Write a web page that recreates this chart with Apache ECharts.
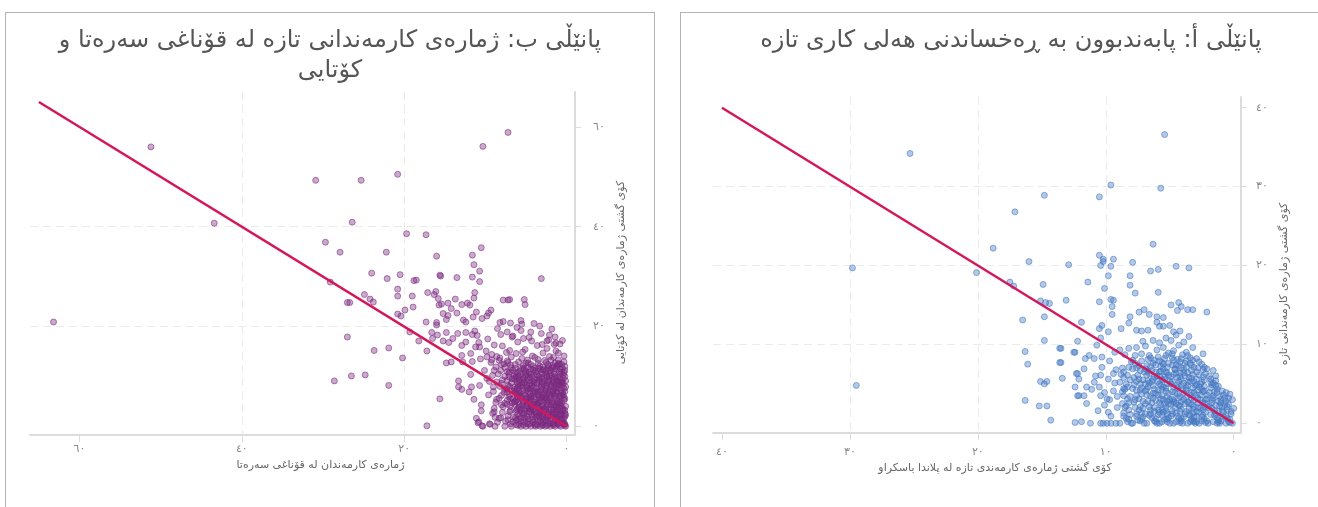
<!DOCTYPE html>
<html>
<head>
<meta charset="utf-8">
<script src="https://cdn.jsdelivr.net/npm/echarts@6/dist/echarts.min.js"></script>
<style>
body{margin:0;background:#fff;overflow:hidden;width:1318px;height:507px;position:relative}
.panel{position:absolute;top:12px;height:520px;border:1px solid #b3b3b3;background:#fff}
#panelB{left:5px;width:648px}
#panelA{left:680px;width:660px}
</style>
</head>
<body>
<div class="panel" id="panelB"></div>
<div class="panel" id="panelA"></div>
<script>
// 刻度
var xTicksA = [0, 10, 20, 30, 40];
var yTicksA = [0, 10, 20, 30, 40];
var xTicksB = [0, 20, 40, 60];
var yTicksB = [0, 20, 40, 60];

// 45度参考线
var fitA = [[0, 0], [40, 40]];
var fitB = [[0, 0], [65, 65]];

// پانێڵی أ - 离群点
var outliersA = [[25.3,34.2],[29.8,19.7],[29.5,4.8],[14.8,28.9],[17.1,26.8],[18.8,22.2],[16.0,20.5],[12.9,20.1],[20.1,19.1],[17.5,17.9],[17.2,17.4],[14.9,17.6],[15.1,15.5],[14.7,15.3],[14.4,15.2],[13.1,15.6],[16.5,13.1],[14.8,13.5],[14.8,10.5],[12.2,10.4],[16.3,9.1],[13.5,9.5],[12.4,9.0],[16.1,7.5],[13.5,7.7],[15.1,5.3],[14.6,5.3],[14.8,5.0],[13.4,5.7],[12.2,6.3],[12.1,5.6],[12.4,4.6],[12.1,3.5],[16.3,2.9],[15.2,2.2],[14.6,2.2],[14.3,0.4],[12.4,0.1],
  [5.4,36.6],[9.6,30.2],[5.7,29.8],[10.5,28.7],[6.3,22.7],[10.5,21.3],[10.2,20.8],[10.2,20.5],[10.4,20.0],[9.4,20.8],[9.6,19.9],[7.9,20.4],[6.5,19.3],[5.9,19.5],[4.5,19.9],[3.5,19.7],[9.8,18.7],[8.1,18.7],[11.4,17.9],[8.1,17.5],[10.1,17.1],[7.7,16.5],[5.9,16.6],[10.5,15.4],[9.6,15.7],[9.4,15.6],[9.5,14.8],[9.5,13.8],[4.9,15.0],[4.3,15.3],[4.1,14.8],[4.4,14.3],[3.6,14.4],[3.2,14.4],[2.1,14.1],[7.4,14.1],[7.0,14.4],[6.6,13.8],[8.1,13.5],[8.2,12.7],[11.9,12.8],[10.3,12.4],[10.5,12.0],[9.8,11.6],[8.8,12.0],[4.7,11.6],[4.2,11.7],[6.0,13.5],[5.5,13.4],[6.0,12.8],[5.8,12.3],[5.5,12.3],[5.0,12.4],[7.6,11.8],[7.2,11.7],[6.7,11.8],
  [13.6,9.5],[13.6,7.7],[12.5,9.0],[12.3,6.3],[11.6,8.2],[11.5,4.6],[10.9,5.2],[10.9,8.2],[10.4,10.8],[10.3,8.4],[10.4,6.1],[10.5,4.6],[10.4,3.5],[10.1,2.3],[9.8,1.4],[9.7,3.0],[9.4,6.3],[9.3,5.1],[9.1,3.4],[8.9,9.3],[8.6,4.4],[12.2,3.5],[11.7,3.5],[9.6,0],[9.9,0],[10.4,0],[11.9,0.2]];

// پانێڵی أ - 密集区
var clusterA = [[0.1,0],[0.3,0.5],[0.6,0],[0.2,1.2],[0.5,1.7],[0.8,0.8],[0.4,2.4],[0.9,2.1],[0.1,3.0],[0.7,3.2],[0.3,3.7],[1.0,0.3],[0.9,4.1],[0.0,1.9],[0.6,2.8],
  [1.1,0],[1.3,0.7],[1.6,0.2],[1.2,1.5],[1.8,1.1],[1.4,2.3],[1.7,3.0],[1.1,3.4],[1.9,2.2],[1.5,4.0],[1.2,4.7],[1.8,4.5],[1.4,5.4],[1.9,6.0],[1.6,6.7],[1.3,0.0],
  [2.0,0],[2.3,0.6],[2.7,0],[2.2,1.4],[2.6,1.9],[2.9,0.9],[2.4,2.6],[2.8,3.2],[2.1,3.6],[2.5,4.3],[2.9,4.9],[2.3,5.5],[2.7,6.1],[2.1,6.9],[2.5,7.5],[2.9,8.2],[2.4,8.8],
  [3.0,0],[3.3,0.5],[3.6,0],[3.9,0.8],[3.2,1.3],[3.5,1.9],[3.8,2.5],[3.1,2.9],[3.4,3.6],[3.7,4.2],[3.0,4.8],[3.9,5.1],[3.3,5.7],[3.6,6.4],[3.1,7.1],[3.8,7.6],[3.4,8.3],[3.7,9.0],[3.2,9.6],[3.9,10.3],[3.5,11.0],
  [4.0,0],[4.3,0.6],[4.7,0],[4.9,0.9],[4.2,1.5],[4.6,2.0],[4.1,2.7],[4.8,3.1],[4.4,3.7],[4.0,4.3],[4.7,4.6],[4.3,5.3],[4.9,5.9],[4.5,6.4],[4.1,7.0],[4.8,7.4],[4.4,8.1],[4.0,8.7],[4.7,9.2],[4.3,9.9],[4.9,10.5],[4.5,11.2],
  [5.0,0],[5.4,0.5],[5.8,0],[5.2,1.2],[5.6,1.8],[5.9,1.1],[5.1,2.4],[5.5,3.0],[5.9,3.6],[5.3,4.1],[5.7,4.8],[5.0,5.3],[5.4,5.9],[5.8,6.5],[5.2,7.1],[5.6,7.7],[5.9,8.4],[5.1,8.9],[5.5,9.6],[5.8,10.2],[5.3,10.8],
  [6.0,0],[6.4,0.7],[6.8,0],[6.2,1.5],[6.6,2.1],[6.9,1.2],[6.1,2.9],[6.5,3.5],[6.9,4.1],[6.3,4.8],[6.7,5.4],[6.0,6.0],[6.4,6.7],[6.8,7.3],[6.2,8.0],[6.6,8.6],[6.0,9.3],[6.9,9.8],[6.3,10.5],
  [7.0,0],[7.5,0.4],[7.9,0],[7.2,1.3],[7.7,2.0],[7.1,2.8],[7.6,3.5],[7.9,4.4],[7.3,5.0],[7.8,5.8],[7.0,6.5],[7.4,7.3],[7.9,8.0],[7.2,8.8],[7.6,9.6],[7.1,10.4],
  [8.0,0],[8.4,0.6],[8.9,0],[8.2,1.7],[8.7,2.5],[8.1,3.4],[8.5,4.3],[8.9,5.2],[8.3,6.1],[8.7,7.0],[8.0,7.8],[8.5,8.7],[8.2,9.5],
  [9.2,0],[9.6,0.9],[9.1,2.0],[9.9,3.1],[9.4,4.1],[9.8,5.6],[9.2,6.8],[9.7,7.9],[9.3,9.0],[10.2,0],[10.6,1.6],[10.1,3.9],[10.8,6.0],[10.3,7.1],[10.7,9.9],[11.2,0],[11.5,2.5],[11.1,4.3],[11.7,6.9],[11.3,8.6],
  [0.4,0.2],[0.8,1.4],[1.0,2.6],[1.5,1.0],[1.7,2.6],[1.3,3.9],[1.6,5.1],[2.0,2.0],[2.2,3.0],[2.4,4.0],[2.6,5.0],[2.2,6.3],[2.8,7.0],[2.5,0.3],[2.9,1.5],[3.2,0.3],[3.5,1.1],[3.3,2.4],[3.7,3.3],[3.1,3.9],[3.6,5.2],[3.2,6.2],[3.9,6.8],[3.4,7.6],[4.1,0.3],[4.5,1.3],[4.2,2.2],[4.7,2.9],[4.4,4.5],[4.1,5.6],[4.6,6.9],[4.2,7.8],[4.8,8.3],[5.2,0.2],[5.6,1.0],[5.3,2.0],[5.8,2.6],[5.2,3.3],[5.6,4.3],[5.9,5.3],[5.3,6.5],[5.7,7.2],[5.4,8.2],[6.2,0.3],[6.6,1.0],[6.4,2.6],[6.1,3.8],[6.7,4.6],[6.3,5.6],[6.7,6.6],[6.1,7.4],[6.5,8.3],[7.3,0.3],[7.1,1.9],[7.4,3.1],[7.2,4.5],[7.6,5.3],[7.3,6.7],[7.7,7.6],[8.3,0.2],[8.6,1.3],[8.2,2.6],[8.4,5.0],[8.6,6.5],
  [0.5,0.6],[0.2,1.5],[0.7,2.4],[0.4,3.2],[0.8,3.6],
  [1.2,0.4],[1.5,1.6],[1.1,2.2],[1.6,3.5],[1.3,4.3],[1.7,4.9],[1.4,6.0],[1.8,5.6],
  [2.1,0.3],[2.4,1.0],[2.7,1.4],[2.3,2.1],[2.8,2.6],[2.1,3.1],[2.6,3.6],[2.3,4.7],[2.8,4.2],[2.4,5.9],[2.9,5.6],[2.3,7.1],[2.7,7.8],
  [3.1,0.8],[3.4,0.2],[3.7,1.5],[3.1,2.1],[3.6,2.7],[3.3,3.2],[3.9,3.8],[3.2,4.5],[3.6,4.8],[3.4,5.3],[3.8,6.0],[3.3,6.7],[3.7,7.1],[3.2,8.0],[3.6,8.6],
  [4.2,0.1],[4.4,0.9],[4.8,1.6],[4.1,1.8],[4.5,2.5],[4.9,2.4],[4.2,3.4],[4.6,3.9],[4.1,4.8],[4.8,5.3],[4.4,5.8],[4.2,6.4],[4.7,6.2],[4.5,7.4],[4.1,8.2],[4.8,8.8],
  [5.1,0.7],[5.5,1.4],[5.9,1.7],[5.4,2.5],[5.0,3.0],[5.7,3.1],[5.1,3.8],[5.5,4.6],[5.9,4.2],[5.2,5.0],[5.6,5.5],[5.1,6.1],[5.8,6.0],[5.5,6.9],[5.1,7.6],[5.8,7.9],[5.3,8.6],
  [6.1,0.6],[6.5,1.7],[6.9,2.5],[6.3,3.2],[6.8,3.6],[6.2,4.3],[6.6,5.1],[6.9,5.0],[6.2,5.9],[6.6,6.3],[6.9,6.9],[6.3,7.6],[6.7,8.1],
  [7.1,0.8],[7.6,1.2],[7.3,2.1],[7.8,2.7],[7.2,3.7],[7.6,4.2],[7.1,5.5],[7.5,6.1],[7.9,6.9],[7.2,7.9],[7.7,8.6],
  [8.1,1.1],[8.5,2.0],[8.3,3.1],[8.7,4.0],[8.1,5.5],[8.6,5.8],[8.2,7.1],
  [0.3,0.1],[0.6,0.9],[0.9,1.6],[0.5,2.1],[1.0,3.0],[0.6,3.9],
  [1.2,0.2],[1.4,1.1],[1.7,1.9],[1.2,2.8],[1.6,3.2],[1.9,3.9],[1.4,4.8],[1.8,5.2],
  [2.2,0.1],[2.5,0.8],[2.9,0.2],[2.4,1.7],[2.8,2.0],[2.2,2.5],[2.6,3.0],[2.9,3.6],[2.3,4.1],[2.7,4.6],[2.5,5.2],[2.9,6.5],[2.4,6.8],
  [3.1,0.2],[3.4,1.0],[3.8,1.2],[3.2,1.8],[3.5,2.5],[3.9,3.0],[3.3,3.9],[3.7,4.4],[3.1,5.3],[3.5,5.8],[3.9,6.4],[3.3,7.4],[3.7,7.9],
  [4.1,0.6],[4.5,0.2],[4.8,1.2],[4.3,2.3],[4.7,2.7],[4.3,3.2],[4.8,4.0],[4.4,4.9],[4.9,5.0],[4.2,5.9],[4.6,6.8],[4.3,7.3],[4.7,8.0],
  [5.2,0.5],[5.6,0.2],[5.8,1.4],[5.3,1.6],[5.7,2.3],[5.2,2.8],[5.6,3.5],[5.3,4.5],[5.8,5.0],[5.4,5.6],[5.2,6.4],[5.7,6.6],[5.5,7.5],
  [6.1,0.2],[6.5,1.2],[6.2,2.0],[6.7,2.8],[6.3,3.8],[6.8,4.3],[6.4,5.3],[6.1,6.5],[6.8,6.1],[6.5,7.2],
  [7.2,0.5],[7.6,0.9],[7.4,1.7],[7.7,3.0],[7.3,4.2],[7.8,4.9],[7.4,5.6],[7.6,7.0],
  [8.2,0.5],[8.6,0.9],[8.4,2.2],[8.6,3.5],[8.3,4.6],[8.8,6.2]];

// پانێڵی ب - 离群点
var outliersB = [[51.2,56.0],[43.4,40.7],[63.2,20.9],
  [7.2,58.9],[10.3,56.1],[30.9,49.3],[25.3,49.3],[20.8,50.5],[26.4,40.9],[19.7,38.6],[17.3,38.4],[29.7,36.9],[27.9,34.9],[22.2,34.9],[10.5,35.8],[16.0,34.1],[11.6,34.3],[11.4,32.4],[10.7,31.1],[24.0,30.7],[20.5,30.4],[22.1,29.6],[15.6,30.3],[15.5,30.1],[13.5,29.8],[11.6,29.9],[10.7,29.0],[3.1,29.6],[29.1,28.9],[18.8,29.2],[18.5,29.3],[20.8,27.5],[24.9,26.4],[24.2,25.5],[23.8,24.9],[27.0,24.8],[26.7,24.8],[20.8,26.1],[19.0,26.1],[18.9,23.9],[19.9,23.3],[20.8,22.5],[20.4,22.1],[19.3,18.9],[27.0,17.9],[23.7,15.2],[21.9,15.7],[20.2,13.7],[28.6,9.1],[26.5,10.1],[24.8,10.3],[21.9,8.2],[15.6,5.5],[17.2,0.1],
  [5.6,21.2],[5.5,20.5],[4.0,20.6],[8.2,20.8],[5.2,25.4],[5.1,24.4],[7.8,25.3],[7.2,25.3],[7.0,25.4],[2.4,17.1],[1.3,16.7],[1.1,12.2],
  [17.1,26.8],[16.3,26.4],[16.1,27.0],[15.8,25.6],[13.7,25.5],[14.6,24.7],[15.4,24.5],[15.7,24.3],[12.9,24.4],[12.2,24.7],[11.9,24.3],[11.4,25.7],[11.3,26.8],[14.2,23.6],[13.5,22.7],[15.2,22.6],[14.6,22.2],[14.8,21.4],[12.7,21.3],[12.4,20.9],[11.5,21.9],[11.1,22.9],[10.4,21.6],[9.8,22.1],[9.6,22.7],[9.3,23.3],[17.3,20.9],[16.0,20.8],[16.0,20.3],
  [16.6,18.8],[15.9,18.3],[16.5,17.6],[14.8,18.8],[14.0,17.6],[13.4,18.6],[12.4,18.8],[11.6,18.4],[15.2,17.1],[14.5,16.8],[12.9,16.2],[11.3,19.1],[18.2,17.1],[17.2,15.1],[14.8,12.7],[14.2,12.9],[12.8,12.9],[13.3,9.1],[13.3,7.9],[12.9,7.4],[11.7,7.9],[10.5,4.3],[10.8,0.9],[10.4,0.1],[9.5,0.5],[8.9,2.9],[8.8,1.8],[8.3,1.6],[8.0,4.3],[11.8,14.6],[10.7,15.9],[9.8,13.9]];

// پانێڵی ب - 密集区
var clusterB = [[0.1,0],[0.4,0.9],[0.2,2.0],[0.5,3.1],[0.1,4.0],[0.3,5.2],[0.6,6.1],[0.2,7.0],[0.5,8.2],[0.1,9.1],[0.4,10.3],[0.2,11.2],[0.6,12.4],[0.3,14.1],[0.8,16.5],
  [0.7,0],[1.0,1.1],[0.8,2.3],[1.1,3.4],[0.9,4.5],[1.2,5.5],[0.7,6.6],[1.0,7.7],[0.8,8.8],[1.1,9.9],[0.9,11.0],[1.2,12.1],[1.0,13.3],
  [1.4,0],[1.6,0.6],[1.3,1.7],[1.7,2.8],[1.5,3.9],[1.8,5.0],[1.4,6.1],[1.6,7.2],[1.3,8.3],[1.7,9.4],[1.5,10.5],[1.8,11.6],[1.4,12.7],[1.6,13.8],
  [2.0,0],[2.3,1.2],[1.9,2.3],[2.2,3.5],[2.4,4.6],[2.0,5.7],[2.3,6.8],[1.9,7.9],[2.2,9.0],[2.4,10.1],[2.0,11.3],[2.3,12.4],[2.1,14.0],
  [2.6,0],[2.9,0.7],[2.5,1.8],[2.8,3.0],[3.0,4.1],[2.6,5.2],[2.9,6.3],[2.5,7.4],[2.8,8.6],[3.0,9.7],[2.6,10.8],[2.9,11.9],[2.7,13.2],
  [3.2,0],[3.5,1.3],[3.1,2.4],[3.4,3.6],[3.6,4.7],[3.2,5.8],[3.5,6.9],[3.1,8.0],[3.4,9.2],[3.6,10.3],[3.2,11.4],[3.5,12.6],
  [3.8,0],[4.1,0.8],[3.7,1.9],[4.0,3.0],[4.2,4.2],[3.8,5.3],[4.1,6.4],[3.7,7.5],[4.0,8.7],[4.2,9.8],[3.8,10.9],[4.1,12.0],
  [4.4,0],[4.7,1.4],[4.3,2.5],[4.6,3.6],[4.8,4.8],[4.4,5.9],[4.7,7.0],[4.3,8.1],[4.6,9.3],[4.8,10.4],[4.4,11.5],[4.7,12.7],
  [5.0,0],[5.3,0.9],[4.9,2.0],[5.2,3.2],[5.4,4.3],[5.0,5.4],[5.3,6.5],[4.9,7.7],[5.2,8.8],[5.4,9.9],[5.0,11.0],[5.3,12.2],
  [5.6,0],[5.9,1.5],[5.5,2.7],[5.8,3.8],[6.0,4.9],[5.6,6.0],[5.9,7.2],[5.5,8.3],[5.8,9.4],[6.0,10.6],[5.6,11.7],
  [6.2,0.3],[6.5,1.8],[6.1,3.3],[6.4,4.4],[6.6,5.5],[6.2,6.7],[6.5,7.8],[6.1,8.9],[6.4,10.1],[6.6,11.2],[6.3,12.4],
  [6.8,0],[7.2,2.1],[6.9,4.0],[7.3,5.2],[7.0,6.4],[7.4,7.6],[6.8,8.7],[7.1,9.9],[7.3,11.0],[6.9,12.3],
  [7.6,0],[8.1,1.7],[7.8,3.9],[8.3,5.6],[7.7,6.8],[8.2,8.0],[7.9,9.3],[8.4,10.5],[7.6,11.8],
  [8.8,0],[9.4,0.4],[9.1,2.6],[8.7,4.8],[9.6,6.3],[9.0,7.9],[9.8,9.6],[8.9,11.2],
  [10.3,0],[10.9,0.7],[10.5,3.1],[11.4,5.4],[10.7,8.2],[11.8,10.4],[11.1,1.6],[12.0,6.9],
  [1.3,15.1],[2.9,14.7],[4.2,14.1],[5.5,13.6],[6.8,13.9],[3.6,16.2],[5.1,15.4],[7.4,14.8],[2.2,17.3],[6.0,16.9],[8.3,13.2],[4.6,17.8],[7.9,16.1],[3.1,18.6],[1.8,19.5],[9.2,14.4],
  [7.3,13.1],[8.0,12.4],[8.6,14.0],[9.3,12.8],[9.9,15.1],[10.6,13.5],[11.2,15.9],[8.9,16.3],[10.1,11.2],[9.5,9.0],[10.8,16.8],[7.0,15.2],[6.2,14.6],[5.4,14.9],[4.8,13.3],[3.9,13.8],[2.4,15.6],[1.0,14.7],[0.5,17.2],[1.5,16.4],
  [11.0,18.2],[9.7,17.5],[8.1,18.4],[6.7,17.9],[5.6,19.2],[4.4,18.9],[3.3,20.1],[12.4,16.9],[12.9,14.2],[11.6,13.0],
  [7.3,18.9],[6.6,18.1],[6.1,19.8],[5.3,17.6],[4.3,17.1],[3.0,16.4],[2.1,18.3],[1.4,17.9],[8.5,19.6],[7.8,21.0],[6.9,20.7],
  [0.3,0.4],[0.6,1.5],[0.2,2.6],[0.5,3.6],[0.8,4.8],[0.3,5.8],[0.7,7.3],[0.4,8.6],[0.8,9.7],[0.3,10.8],
  [1.1,0.5],[1.4,1.2],[1.0,2.4],[1.3,3.3],[1.6,4.4],[1.1,5.0],[1.5,6.5],[1.2,7.6],[1.7,8.7],[1.3,9.8],[1.6,11.0],
  [2.0,0.6],[2.4,1.7],[2.1,2.8],[2.5,3.9],[2.2,4.9],[2.6,6.0],[2.1,7.1],[2.5,8.2],[2.2,9.4],[2.6,10.4],[2.3,11.6],
  [2.9,0.3],[3.3,1.8],[2.9,2.5],[3.2,3.1],[3.0,4.4],[3.3,5.5],[2.8,6.7],[3.3,7.8],[3.0,8.9],[3.4,10.0],[2.9,11.2],
  [3.8,0.5],[4.2,1.9],[3.8,2.9],[4.3,3.9],[3.9,4.9],[4.4,6.0],[3.9,7.1],[4.3,8.2],[3.9,9.4],[4.4,10.5],
  [4.7,0.4],[5.1,1.6],[4.6,2.9],[5.0,4.1],[4.6,5.2],[5.1,6.2],[4.7,7.5],[5.2,8.6],[4.8,9.6],[5.1,10.8],
  [5.6,1.0],[6.0,2.4],[5.7,3.3],[6.1,5.4],[5.7,6.6],[6.1,7.6],[5.8,8.8],[6.2,9.9],[5.8,11.1],
  [0.2,0.5],[0.5,1.3],[0.1,2.3],[0.4,3.4],[0.7,4.2],[0.2,5.5],[0.5,6.8],[0.1,7.9],[0.6,9.0],[0.2,10.0],[0.5,11.6],[0.3,12.9],
  [0.9,0.2],[1.2,1.8],[0.8,3.0],[1.3,4.1],[0.9,5.9],[1.3,7.0],[0.9,8.2],[1.2,9.2],[0.8,10.4],[1.3,11.5],[0.9,12.6],
  [1.7,0.4],[1.9,1.5],[1.6,2.2],[1.9,3.4],[1.7,4.7],[2.0,6.2],[1.7,6.9],[2.0,8.4],[1.6,9.0],[2.0,10.7],[1.7,12.2],[1.9,13.3],
  [2.4,0.2],[2.7,1.3],[2.3,2.2],[2.7,3.5],[2.4,5.3],[2.8,5.7],[2.4,7.7],[2.7,9.1],[2.4,9.9],[2.8,11.4],[2.5,12.8],
  [3.1,0.7],[3.4,2.0],[3.0,3.3],[3.5,4.2],[3.1,5.1],[3.5,6.2],[3.1,7.4],[3.6,8.6],[3.2,9.8],[3.6,11.0],[3.3,12.1],[3.5,13.4],
  [3.9,0.2],[4.2,1.3],[4.0,2.4],[4.4,3.3],[4.0,4.5],[4.4,5.5],[4.0,6.8],[4.5,7.6],[4.1,9.0],[4.5,9.9],[4.1,11.3],[4.4,12.4],
  [4.9,0.6],[5.3,2.4],[4.9,3.5],[5.3,4.7],[4.9,5.8],[5.4,7.1],[4.9,8.2],[5.4,9.3],[5.0,10.3],[5.4,11.5],[5.0,12.7],
  [5.8,0.4],[6.2,1.2],[5.8,2.0],[6.2,3.0],[5.8,4.4],[6.3,5.0],[5.9,6.4],[6.3,7.1],[5.9,8.1],[6.3,9.4],[5.9,10.0],[6.3,11.6],[5.9,12.9],
  [6.6,0.9],[7.0,2.9],[6.7,4.7],[7.1,5.9],[6.7,7.1],[7.2,8.2],[6.7,9.5],[7.1,10.6],[6.8,11.7],[7.2,12.8],
  [7.5,1.0],[7.9,2.8],[7.6,4.6],[8.0,6.2],[7.6,7.4],[8.0,8.6],[7.6,10.0],[8.1,11.2],[7.7,12.5],[8.2,13.7],
  [8.5,0.8],[8.9,3.6],[8.6,5.4],[9.0,7.0],[8.6,8.9],[9.1,10.2],[8.7,11.9],[9.2,13.3],
  [0.2,0.2],[0.5,0.6],[0.3,1.6],[0.6,2.4],[0.2,3.2],[0.6,4.6],[0.4,6.3],[0.3,7.6],[0.6,8.8],[0.4,9.6],[0.6,10.9],[0.2,12.0],
  [1.0,0.6],[1.2,1.4],[0.9,2.0],[1.2,2.9],[1.0,3.8],[1.1,4.6],[0.8,6.1],[1.2,6.8],[1.0,8.5],[1.1,9.0],[0.8,11.6],[1.0,12.5],
  [1.6,0.2],[1.8,1.9],[1.5,2.6],[1.6,3.3],[1.9,4.3],[1.5,5.6],[1.8,6.4],[1.5,7.7],[1.8,8.2],[1.5,9.7],[1.9,10.2],[1.6,11.9],
  [2.2,0.4],[2.5,1.1],[2.3,2.5],[2.6,3.3],[2.3,4.2],[2.5,5.6],[2.2,6.4],[2.6,7.1],[2.4,8.7],[2.1,10.0],[2.5,11.2],[2.2,12.1],
  [3.0,0.2],[3.2,1.1],[3.0,2.0],[3.3,2.6],[3.2,4.0],[3.4,4.8],[3.0,5.9],[3.4,6.3],[3.2,7.0],[3.0,8.4],[3.3,9.5],[3.0,10.5],[3.4,11.6],
  [3.6,0.3],[3.9,1.4],[3.7,2.6],[4.1,3.5],[3.7,4.4],[4.0,5.9],[3.8,6.7],[4.1,7.8],[3.7,8.8],[4.0,10.2],[3.9,11.6],
  [4.5,0.5],[4.8,1.8],[4.5,3.0],[4.9,4.1],[4.5,4.6],[4.8,5.6],[4.5,6.6],[4.9,7.2],[4.5,8.6],[4.9,9.0],[4.6,10.8],[4.8,11.9],
  [5.3,0.3],[5.6,1.6],[5.2,2.7],[5.6,3.5],[5.3,5.0],[5.7,5.7],[5.4,7.8],[5.7,8.0],[5.3,9.6],[5.7,10.3],[5.2,11.5],
  [6.0,0.2],[6.3,1.6],[6.0,3.6],[6.4,4.9],[6.1,6.2],[6.4,7.4],[6.0,8.5],[6.5,9.6],[6.2,10.8],
  [6.9,0.5],[7.2,1.3],[6.9,3.2],[7.3,4.4],[6.9,5.5],[7.3,6.9],[7.0,8.0],[7.3,9.2],[7.0,10.9]];

var FONT = "'DejaVu Sans', sans-serif";
var AR_DIGITS = '٠١٢٣٤٥٦٧٨٩';

// 数字转成东阿拉伯数字
function toAr(v){
    return String(v).replace(/\d/g, function(d){ return AR_DIGITS[d]; });
}

function tickFormatter(ticks){
    return function(v){
        return ticks.indexOf(v) > -1 ? toAr(v) : '';
    };
}

// 散点图
function load_scatter(elementId, cfg){
    var gridLine = {
        show: true,
        showMinLine: false,
        showMaxLine: false,
        lineStyle: { color: '#ebebeb', width: 1, type: [8, 5] }
    };
    var axisLine = { show: true, onZero: false, lineStyle: { color: '#dcdcdc', width: 2 } };
    var option = {
        animation: false,
        title: {
            text: cfg.title,
            left: 'center',
            top: 8,
            textStyle: { fontFamily: FONT, fontSize: 24, fontWeight: 'normal', color: '#555', lineHeight: 30 }
        },
        grid: cfg.grid,
        xAxis: {
            type: 'value',
            inverse: true,
            min: cfg.xRange[0],
            max: cfg.xRange[1],
            splitNumber: cfg.xSplit,
            name: cfg.xName,
            nameLocation: 'middle',
            nameGap: cfg.xNameGap,
            nameTextStyle: { fontFamily: FONT, fontSize: 11, color: '#666', padding: [0, 0, 0, 36] },
            axisLine: axisLine,
            axisTick: { show: true, length: 7, customValues: cfg.xTicks, lineStyle: { color: '#dcdcdc' } },
            axisLabel: { fontFamily: FONT, fontSize: 11, color: '#888', margin: cfg.xLabelMargin, customValues: cfg.xTicks, formatter: tickFormatter(cfg.xTicks) },
            splitLine: gridLine
        },
        yAxis: {
            type: 'value',
            position: 'right',
            min: cfg.yRange[0],
            max: cfg.yRange[1],
            splitNumber: cfg.ySplit,
            name: cfg.yName,
            nameLocation: 'middle',
            nameRotate: 90,
            nameGap: cfg.yNameGap,
            nameTextStyle: { fontFamily: FONT, fontSize: 11, color: '#666', padding: [0, cfg.yNameShift, 0, 0] },
            axisLine: axisLine,
            axisTick: { show: true, length: 6, customValues: cfg.yTicks, lineStyle: { color: '#dcdcdc' } },
            axisLabel: { fontFamily: FONT, fontSize: 11, color: '#888', margin: cfg.yLabelMargin, customValues: cfg.yTicks, formatter: tickFormatter(cfg.yTicks) },
            splitLine: gridLine
        },
        series: [
            {
                type: 'scatter',
                data: cfg.points,
                symbolSize: 6,
                itemStyle: { color: cfg.fill, borderColor: cfg.stroke, borderWidth: 1 },
                emphasis: { disabled: true }
            },
            {
                type: 'line',
                data: cfg.fit,
                symbol: 'none',
                z: 5,
                lineStyle: { color: '#d4175b', width: 2.5 },
                emphasis: { disabled: true }
            }
        ]
    };
    var myChart = echarts.init(document.getElementById(elementId));
    myChart.setOption(option, true);
}

load_scatter('panelB', {
    title: 'پانێڵی ب: ژمارەی کارمەندانی تازە لە قۆناغی سەرەتا و\nکۆتایی',
    grid: { left: 24, top: 79, width: 545, height: 343 },
    xRange: [-1.05, 66.1], xSplit: 3, xTicks: xTicksB,
    yRange: [-1.74, 67], ySplit: 3, yTicks: yTicksB,
    xName: 'ژمارەی کارمەندان لە قۆناغی سەرەتا', xNameGap: 22, xLabelMargin: 9,
    yName: 'کۆی گشتی ژمارەی کارمەندان لە کۆتایی', yNameGap: 23, yLabelMargin: 18, yNameShift: 18,
    points: outliersB.concat(clusterB),
    fit: fitB,
    fill: 'rgba(122,40,126,0.5)', stroke: 'rgba(122,40,126,0.7)'
});

load_scatter('panelA', {
    title: 'پانێڵی أ: پابەندبوون بە ڕەخساندنی هەلی کاری تازە',
    grid: { left: 32, top: 84, width: 528, height: 336 },
    xRange: [-0.57, 40.7], xSplit: 4, xTicks: xTicksA,
    yRange: [-1.23, 41.36], ySplit: 4, yTicks: yTicksA,
    xName: 'کۆی گشتی ژمارەی کارمەندی تازە لە پلاندا باسکراو', xNameGap: 28, xLabelMargin: 14,
    yName: 'کۆی گشتی ژمارەی کارمەندانی تازە', yNameGap: 38, yLabelMargin: 15, yNameShift: 38,
    points: outliersA.concat(clusterA),
    fit: fitA,
    fill: 'rgba(66,118,192,0.5)', stroke: 'rgba(66,118,192,0.7)'
});
</script>
</body>
</html>
